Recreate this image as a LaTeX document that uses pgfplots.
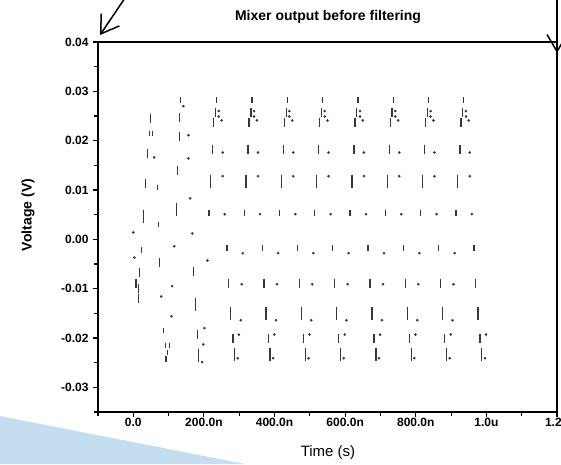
\documentclass[border=0pt]{standalone}
\usepackage{pgfplots}
\pgfplotsset{compat=1.18}
\usepackage{fontspec}
\setmainfont{Liberation Sans}
\usetikzlibrary{arrows.meta}
\definecolor{slideblue}{RGB}{196,222,240}
\definecolor{ink}{RGB}{55,55,55}
\begin{document}
\begin{tikzpicture}
\path[use as bounding box] (0pt,0pt) rectangle (561pt,464pt);
\fill[slideblue] (0pt,48pt) -- (245pt,0pt) -- (0pt,0pt) -- cycle;
\begin{axis}[
  at={(98pt,52pt)}, anchor=south west,
  scale only axis, width=459pt, height=370pt,
  xmin=-100, xmax=1200, ymin=-0.035, ymax=0.04,
  axis line style={line width=1.4pt},
  every tick/.style={line width=1.1pt, black},
  tick align=outside, xtick pos=bottom, ytick pos=left,
  major tick length=5pt, minor tick length=4pt,
  scaled y ticks=false, scaled x ticks=false,
  xtick={0,200,400,600,800,1000,1200},
  xticklabels={0.0,200.0n,400.0n,600.0n,800.0n,1.0u,1.2u},
  minor xtick={-100,100,300,500,700,900,1100},
  ytick={-0.03,-0.02,-0.01,0,0.01,0.02,0.03,0.04},
  yticklabels={-0.03,-0.02,-0.01,0.00,0.01,0.02,0.03,0.04},
  minor ytick={-0.035,-0.025,-0.015,-0.005,0.005,0.015,0.025,0.035},
  /pgf/number format/assume math mode=true,
  ticklabel style={font=\fontsize{12}{14}\selectfont\bfseries},
  xticklabel style={yshift=2pt},
  yticklabel style={xshift=-1pt},
  clip=false,
]
% short bars
\addplot[only marks, mark=|, mark size=2.75pt, mark options={line width=1.3pt, ink}] coordinates {
(236,0.0282)(336,0.0282)(436,0.0282)(536,0.0282)(636,0.0282)(736,0.0282)(836,0.0282)(936,0.0282)
(214,0.0053)(314,0.0053)(414,0.0053)(514,0.0053)(614,0.0053)(714,0.0053)(814,0.0053)(914,0.0053)
(265,-0.0018)(365,-0.0018)(465,-0.0018)(565,-0.0018)(665,-0.0018)(765,-0.0018)(865,-0.0018)(965,-0.0018)
(45,0.0215)(54,0.0215)(68,0.0105)(71,0.0030)(23,-0.0022)(85,-0.0185)(91,-0.0215)(102,-0.0215)(96,-0.0229)(93,-0.0243)(133,0.0282)
};
% medium bars
\addplot[only marks, mark=|, mark size=4.5pt, mark options={line width=1.3pt, ink}] coordinates {
(233,0.0258)(333,0.0258)(433,0.0258)(533,0.0258)(633,0.0258)(733,0.0258)(833,0.0258)(933,0.0258)
(228,0.0237)(328,0.0237)(428,0.0237)(528,0.0237)(628,0.0237)(728,0.0237)(828,0.0237)(928,0.0237)
(225,0.0183)(325,0.0183)(425,0.0183)(525,0.0183)(625,0.0183)(725,0.0183)(825,0.0183)(925,0.0183)
(270,-0.0089)(370,-0.0089)(470,-0.0089)(570,-0.0089)(670,-0.0089)(770,-0.0089)(870,-0.0089)(970,-0.0089)
(282,-0.0201)(382,-0.0201)(482,-0.0201)(582,-0.0201)(682,-0.0201)(782,-0.0201)(882,-0.0201)(982,-0.0201)
(48,0.0245)(40,0.0174)(34,0.0114)(74,-0.0047)(17,-0.0067)(8,-0.0089)(14,-0.0099)(14,-0.0120)
(130,0.0247)(130,0.0209)(125,0.0140)(170,-0.0065)(181,-0.0193)
};
% long bars
\addplot[only marks, mark=|, mark size=6.5pt, mark options={line width=1.3pt, ink}] coordinates {
(219,0.0118)(319,0.0118)(419,0.0118)(519,0.0118)(619,0.0118)(719,0.0118)(819,0.0118)(919,0.0118)
(276,-0.0150)(376,-0.0150)(476,-0.0150)(576,-0.0150)(676,-0.0150)(776,-0.0150)(876,-0.0150)(976,-0.0150)
(287,-0.0233)(387,-0.0233)(487,-0.0233)(587,-0.0233)(687,-0.0233)(787,-0.0233)(887,-0.0233)(987,-0.0233)
(28,0.0047)(122,0.0061)(176,-0.0132)(184,-0.0235)
};
% dots
\addplot[only marks, mark=*, mark size=1.1pt, mark options={ink, draw=none}] coordinates {
(242,0.0260)(342,0.0260)(442,0.0260)(542,0.0260)(642,0.0260)(742,0.0260)(842,0.0260)(942,0.0260)
(242,0.0249)(342,0.0249)(442,0.0249)(542,0.0249)(642,0.0249)(742,0.0249)(842,0.0249)(942,0.0249)
(250,0.0241)(350,0.0241)(450,0.0241)(550,0.0241)(650,0.0241)(750,0.0241)(850,0.0241)(950,0.0241)
(253,0.0176)(353,0.0176)(453,0.0176)(553,0.0176)(653,0.0176)(753,0.0176)(853,0.0176)(953,0.0176)
(253,0.0128)(353,0.0128)(453,0.0128)(553,0.0128)(653,0.0128)(753,0.0128)(853,0.0128)(953,0.0128)
(259,0.0051)(359,0.0051)(459,0.0051)(559,0.0051)(659,0.0051)(759,0.0051)(859,0.0051)(959,0.0051)
(310,-0.0028)(410,-0.0028)(510,-0.0028)(610,-0.0028)(710,-0.0028)(810,-0.0028)(910,-0.0028)
(307,-0.0091)(407,-0.0091)(507,-0.0091)(607,-0.0091)(707,-0.0091)(807,-0.0091)(907,-0.0091)
(304,-0.0164)(404,-0.0164)(504,-0.0164)(604,-0.0164)(704,-0.0164)(804,-0.0164)(904,-0.0164)
(299,-0.0193)(399,-0.0193)(499,-0.0193)(599,-0.0193)(699,-0.0193)(799,-0.0193)(899,-0.0193)(999,-0.0193)
(296,-0.0241)(396,-0.0241)(496,-0.0241)(596,-0.0241)(696,-0.0241)(796,-0.0241)(896,-0.0241)(996,-0.0241)
(59,0.0166)(0,0.0014)(3,-0.0037)(79,-0.0116)(108,-0.0156)(110,-0.0095)(142,0.0270)(156,0.0211)
(156,0.0164)(161,0.0083)(167,0.0012)(116,-0.0014)(210,-0.0043)(201,-0.0180)(198,-0.0213)(195,-0.0249)
};
\end{axis}
\node at (328pt,447pt) {\fontsize{14}{17}\selectfont\bfseries Mixer output before filtering};
\node[rotate=90] at (28pt,249pt) {\fontsize{14}{17}\selectfont\bfseries Voltage (V)};
\node at (328pt,11pt) {\fontsize{15}{18}\selectfont Time (s)};
\draw[line width=1.5pt, -{Straight Barb[length=17pt,width=22pt]}] (125pt,466pt) -- (100pt,429pt);
\draw[line width=1.5pt, -{Straight Barb[length=17pt,width=20pt]}] (557pt,466pt) -- (557pt,411pt);
\end{tikzpicture}
\end{document}
